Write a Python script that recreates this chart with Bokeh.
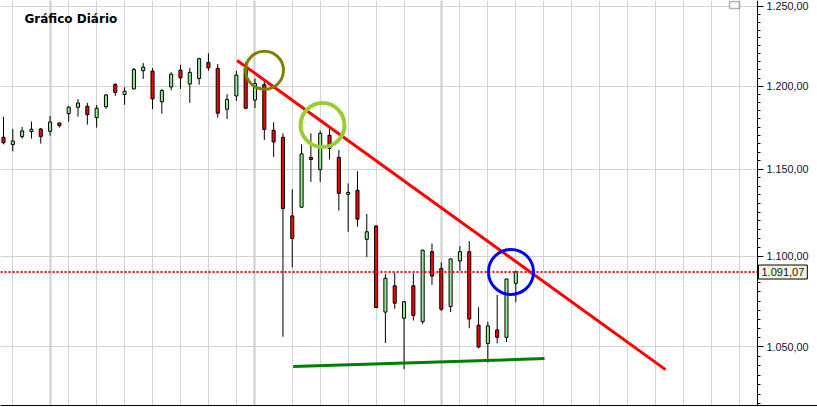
from bokeh.plotting import figure
from bokeh.models import Range1d, FixedTicker, Grid, Label, BoxAnnotation, ColumnDataSource
from bokeh.embed import file_html
from bokeh.resources import INLINE

# ---- data (daily candles) ----
day = list(range(56))
opens = [1169.0, 1164.6, 1169.4, 1172.4, 1174.0, 1172.6, 1177.6, 1183.2, 1187.1, 1187.7,
         1180.8, 1187.4, 1201.1, 1194.9, 1198.3, 1209.5, 1209.3, 1190.4, 1199.5, 1209.9,
         1201.3, 1204.7, 1214.7, 1211.0, 1185.9, 1194.0, 1211.2, 1191.5, 1200.9, 1173.2,
         1169.0, 1122.9, 1127.9, 1157.0, 1149.8, 1170.2, 1157.0, 1135.4, 1137.7, 1109.5,
         1117.1, 1068.9, 1083.4, 1065.6, 1083.4, 1063.7, 1102.5, 1093.1, 1072.0, 1097.3,
         1102.5, 1061.8, 1051.9, 1059.2, 1055.2, 1084.8]
highs = [1181.4, 1174.0, 1175.2, 1178.4, 1174.6, 1181.8, 1177.8, 1187.8, 1192.1, 1189.8,
         1188.4, 1195.2, 1201.8, 1199.3, 1211.2, 1214.3, 1211.2, 1198.3, 1208.6, 1213.2,
         1211.3, 1217.6, 1220.4, 1213.7, 1195.1, 1209.5, 1214.9, 1204.7, 1203.6, 1178.0,
         1171.4, 1138.3, 1164.8, 1171.4, 1173.0, 1174.0, 1161.4, 1141.7, 1148.8, 1124.0,
         1117.3, 1089.9, 1090.7, 1075.1, 1090.3, 1103.7, 1107.1, 1096.5, 1098.6, 1105.6,
         1108.5, 1071.6, 1063.7, 1078.4, 1087.2, 1091.8]
lows = [1164.8, 1160.6, 1168.2, 1168.2, 1165.2, 1170.0, 1174.8, 1178.4, 1181.4, 1176.6,
        1174.8, 1186.2, 1194.0, 1188.6, 1197.9, 1204.4, 1186.0, 1183.2, 1197.5, 1198.3,
        1189.8, 1200.9, 1209.5, 1180.8, 1180.0, 1191.0, 1186.2, 1186.6, 1167.4, 1157.3,
        1055.5, 1093.6, 1127.5, 1142.6, 1142.6, 1155.8, 1125.9, 1113.8, 1116.7, 1099.5,
        1071.1, 1052.2, 1070.7, 1038.1, 1064.3, 1062.3, 1083.9, 1069.6, 1068.9, 1091.8,
        1060.1, 1049.2, 1041.6, 1051.9, 1052.7, 1074.4]
closes = [1165.8, 1166.8, 1172.8, 1173.8, 1169.4, 1178.2, 1176.0, 1187.2, 1189.7, 1182.6,
          1186.5, 1194.6, 1196.1, 1196.9, 1210.3, 1211.8, 1192.2, 1197.3, 1207.4, 1205.1,
          1208.5, 1217.0, 1211.3, 1183.5, 1191.9, 1206.8, 1186.5, 1201.6, 1173.7, 1166.2,
          1127.1, 1110.0, 1159.1, 1155.8, 1171.4, 1162.4, 1135.9, 1136.5, 1121.0, 1113.8,
          1071.4, 1087.6, 1073.8, 1074.6, 1067.0, 1103.3, 1088.8, 1070.5, 1098.4, 1102.5,
          1065.1, 1050.0, 1061.4, 1055.2, 1087.2, 1091.07]

last_price = 1091.07
last_label = "1.091,07"

price_ticks = [1050, 1100, 1150, 1200, 1250]
price_tick_labels = ["1.050,00", "1.100,00", "1.150,00", "1.200,00", "1.250,00"]

grid_week = [1, 7, 10, 13, 16, 19, 22, 25, 31, 34, 37, 40, 43, 49, 52, 55, 58, 61, 64, 67, 70, 73, 76, 79]
grid_month = [5, 27, 47]

# resistance (red) and support (green) lines: (day, price)
res_x = [25.09, 71.07]
res_y = [1215.9, 1037.9]
sup_x = [31.1, 58.08]
sup_y = [1039.5, 1043.8]

# highlighted touches
olive_x, olive_y = [28.02], [1209.8]
lime_x, lime_y = [34.25], [1176.3]
blue_x, blue_y = [54.48], [1091.1]

title_text = "Gráfico Diário"

# view window (in days / price)
x_start, x_axis_at, x_end = -0.322, 80.944, 87.388
y_low, y_high = 1019.0, 1253.8

# ---- derived ----
body_top = [max(o, c) for o, c in zip(opens, closes)]
body_bot = [min(o, c) for o, c in zip(opens, closes)]
colors = ["#90ee90" if c >= o else "#ff0000" for o, c in zip(opens, closes)]
src = ColumnDataSource(dict(x=day, h=highs, l=lows, t=body_top, b=body_bot, c=colors))

p = figure(width=817, height=407, output_backend="svg", toolbar_location=None,
           y_axis_type="log", y_axis_location="right",
           x_range=Range1d(x_start, x_end), y_range=Range1d(y_low, y_high),
           min_border_left=0, min_border_right=0, min_border_top=0, min_border_bottom=2)
p.outline_line_color = None
p.background_fill_color = "white"
p.border_fill_color = "white"

# y axis (drawn at a fixed day position, labels to its right)
p.yaxis.fixed_location = x_axis_at
p.yaxis.ticker = FixedTicker(ticks=price_ticks, minor_ticks=list(range(1020, 1256, 5)))
p.yaxis.major_label_overrides = {t: s for t, s in zip(price_ticks, price_tick_labels)}
p.yaxis.major_label_text_font = "Liberation Sans"
p.yaxis.major_label_text_font_size = "10.8px"
p.yaxis.major_label_text_color = "#101030"
p.yaxis.axis_line_color = "black"
p.yaxis.major_tick_line_color = "black"
p.yaxis.minor_tick_line_color = "black"
p.yaxis.major_tick_out = 6
p.yaxis.major_tick_in = 0
p.yaxis.minor_tick_out = 3
p.yaxis.minor_tick_in = 0
p.yaxis.major_label_standoff = 3

# x axis: only a baseline (no ticks, no labels)
p.xaxis.ticker = FixedTicker(ticks=[], minor_ticks=[])
p.xaxis.major_tick_line_color = None
p.xaxis.minor_tick_line_color = None
p.xaxis.major_label_standoff = 0
p.xaxis.major_tick_out = 0
p.xaxis.axis_line_color = "black"

# grids
p.xgrid.ticker = FixedTicker(ticks=grid_week)
p.xgrid.grid_line_color = "#d3d3d3"
p.xgrid.grid_line_width = 1
p.ygrid.ticker = FixedTicker(ticks=price_ticks)
p.ygrid.grid_line_color = "#d3d3d3"
p.ygrid.grid_line_width = 1
p.ygrid.cross_bounds = (x_start, x_axis_at)
p.add_layout(Grid(dimension=0, ticker=FixedTicker(ticks=grid_month),
                  grid_line_color="#cccccc", grid_line_width=2))

# candles
p.segment(x0="x", y0="h", x1="x", y1="l", source=src, line_color="black", line_width=1)
p.vbar(x="x", top="t", bottom="b", width=0.33, source=src,
       fill_color="c", line_color="black", line_width=1)

# last price dotted line
p.segment(x0=[x_start], y0=[last_price], x1=[x_axis_at], y1=[last_price],
          line_color="#ff0000", line_width=2, line_dash="2 2")

# trend lines
p.line(res_x, res_y, line_color="#ff0000", line_width=3)
p.line(sup_x, sup_y, line_color="#008000", line_width=3)

# circles
p.scatter(olive_x, olive_y, marker="circle", size=38, fill_color=None,
          line_color="#808000", line_width=3)
p.scatter(lime_x, lime_y, marker="circle", size=44, fill_color=None,
          line_color="#9acd32", line_width=4)
p.scatter(blue_x, blue_y, marker="circle", size=45, fill_color=None,
          line_color="#0000ff", line_width=3)

# title
p.add_layout(Label(x=24, y=387, x_units="screen", y_units="screen", text=title_text,
                   text_font="DejaVu Sans", text_font_style="bold", text_font_size="12px",
                   text_baseline="middle", text_color="black"))

# last price label on the axis
p.add_layout(Label(x=758, y=last_price, x_units="screen", y_units="data", text=last_label,
                   text_font="Liberation Sans", text_font_size="11px", text_baseline="middle",
                   text_color="#101030", background_fill_color="#f5f5dc",
                   border_line_color="black", border_line_width=1, padding=3))

# small window icon
p.add_layout(BoxAnnotation(left=729, right=739, top=404, bottom=397,
                           left_units="screen", right_units="screen",
                           top_units="screen", bottom_units="screen",
                           fill_color="white", fill_alpha=1.0,
                           line_color="black", line_width=1.5, level="overlay"))

open("out.html", "w").write(file_html(p, INLINE))
